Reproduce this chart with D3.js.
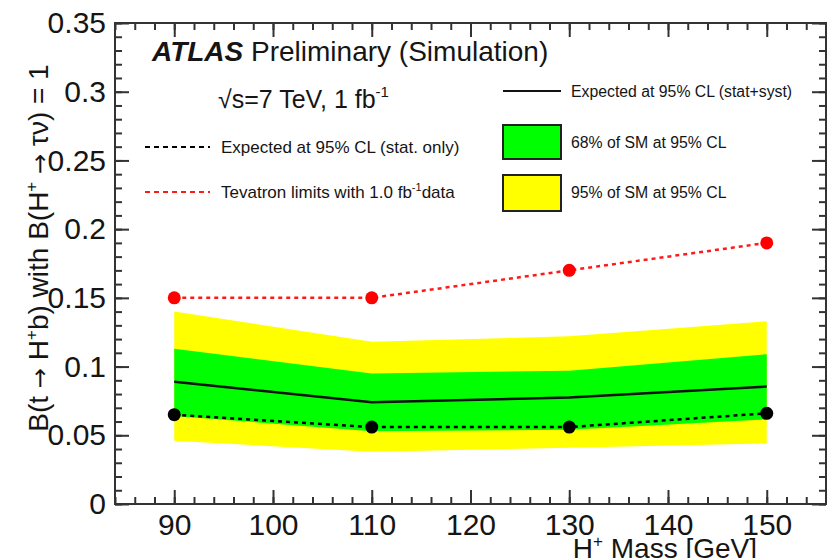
<!DOCTYPE html>
<html>
<head>
<meta charset="utf-8">
<script src="https://cdn.jsdelivr.net/npm/d3@7"></script>
<style>
  body { margin: 0; background: #fff; }
  text { font-family: "Liberation Sans", Arial, Helvetica, sans-serif; fill: #151515; }
</style>
</head>
<body>
<svg id="chart" width="827" height="558"></svg>
<script>
/*global d3*/

// H+ masses (GeV) where the limits were computed
var masses = [90, 110, 130, 150];

// limits on B(t -> H+b)
var tevatron = [0.15, 0.15, 0.17, 0.19];
var expStatOnly = [0.065, 0.056, 0.056, 0.066];
var expStatSyst = [0.089, 0.074, 0.0775, 0.0855];

// bands around the expected limit
var band68Up = [0.113, 0.095, 0.097, 0.109];
var band68Lo = [0.064, 0.053, 0.054, 0.0615];
var band95Up = [0.140, 0.118, 0.122, 0.133];
var band95Lo = [0.046, 0.038, 0.041, 0.044];

var xTicks = [90, 100, 110, 120, 130, 140, 150];
var xTickLabels = ["90", "100", "110", "120", "130", "140", "150"];
var yTicks = [0, 0.05, 0.1, 0.15, 0.2, 0.25, 0.3, 0.35];
var yTickLabels = ["0", "0.05", "0.1", "0.15", "0.2", "0.25", "0.3", "0.35"];

var legendLeft = ["Expected at 95% CL (stat. only)", "Tevatron limits with 1.0 fb"];
var legendRight = ["Expected at 95% CL (stat+syst)", "68% of SM at 95% CL", "95% of SM at 95% CL"];

var svg = d3.select("#chart");

var x = d3.scaleLinear().domain([84, 156]).range([115, 826]);
var y = d3.scaleLinear().domain([0, 0.35]).range([504, 23]);

var xMinor = d3.range(84, 157, 2);
var yMinor = d3.range(0, 0.3505, 0.01);

// bands first, so the frame and lines sit on top
function band(lo, up) {
  "use strict";
  return d3.area()
    .x(function(d, i) { return x(masses[i]); })
    .y0(function(d, i) { return y(lo[i]); })
    .y1(function(d, i) { return y(up[i]); })(masses);
}

svg.append("path").attr("d", band(band95Lo, band95Up)).attr("fill", "#ffff00");
svg.append("path").attr("d", band(band68Lo, band68Up)).attr("fill", "#00ff00");

function line(vals) {
  "use strict";
  return d3.line()
    .x(function(d, i) { return x(masses[i]); })
    .y(function(d, i) { return y(vals[i]); })(masses);
}

svg.append("path").attr("d", line(expStatSyst))
  .attr("fill", "none").attr("stroke", "#111").attr("stroke-width", 2.5);

svg.append("path").attr("d", line(expStatOnly))
  .attr("fill", "none").attr("stroke", "#000").attr("stroke-width", 2.5)
  .attr("stroke-dasharray", "4,4");

svg.append("path").attr("d", line(tevatron))
  .attr("fill", "none").attr("stroke", "#ff1a1a").attr("stroke-width", 2.5)
  .attr("stroke-dasharray", "4,4");

svg.selectAll("circle.stat").data(expStatOnly).enter().append("circle")
  .attr("class", "stat")
  .attr("cx", function(d, i) { return x(masses[i]); })
  .attr("cy", function(d) { return y(d); })
  .attr("r", 6.5).attr("fill", "#000");

svg.selectAll("circle.tev").data(tevatron).enter().append("circle")
  .attr("class", "tev")
  .attr("cx", function(d, i) { return x(masses[i]); })
  .attr("cy", function(d) { return y(d); })
  .attr("r", 6.5).attr("fill", "#ff0000");

// frame with inward ticks on all four sides
function ticks(axis, transform) {
  "use strict";
  var g = svg.append("g").attr("transform", transform).call(axis);
  g.select(".domain").remove();
  g.selectAll("line").attr("stroke", "#333").attr("stroke-width", 2);
  return g;
}

ticks(d3.axisBottom(x).tickValues(xMinor).tickSize(-7).tickFormat(""), "translate(0,504)");
ticks(d3.axisTop(x).tickValues(xMinor).tickSize(-7).tickFormat(""), "translate(0,23)");
ticks(d3.axisTop(x).tickValues(xTicks).tickSize(-14).tickFormat(""), "translate(0,23)");
ticks(d3.axisLeft(y).tickValues(yMinor).tickSize(-7).tickFormat(""), "translate(115,0)");
ticks(d3.axisRight(y).tickValues(yMinor).tickSize(-7).tickFormat(""), "translate(826,0)");
ticks(d3.axisRight(y).tickValues(yTicks).tickSize(-14).tickFormat(""), "translate(826,0)");

var xAxis = ticks(d3.axisBottom(x).tickValues(xTicks).tickSize(-14).tickPadding(10)
  .tickFormat(function(d, i) { return xTickLabels[i]; }), "translate(0,504)");
var yAxis = ticks(d3.axisLeft(y).tickValues(yTicks).tickSize(-14).tickPadding(9)
  .tickFormat(function(d, i) { return yTickLabels[i]; }), "translate(115,0)");

[xAxis, yAxis].forEach(function(g) {
  "use strict";
  g.attr("font-family", null).attr("font-size", null);
  g.selectAll("text").attr("fill", "#151515").style("font-size", "30px");
});

svg.append("rect")
  .attr("x", 115).attr("y", 23).attr("width", 711).attr("height", 481)
  .attr("fill", "none").attr("stroke", "#333").attr("stroke-width", 2);

// axis titles
var yTitle = svg.append("text")
  .attr("transform", "translate(48,248) rotate(-90)")
  .attr("text-anchor", "middle").style("font-size", "28px");
yTitle.append("tspan").text("B(t ");
yTitle.append("tspan").text("\u2192").style("font-family", "DejaVu Sans").style("font-size", "24px");
yTitle.append("tspan").text(" H");
yTitle.append("tspan").text("+").attr("dy", -11).style("font-size", "17px");
yTitle.append("tspan").text("b) with B(H").attr("dy", 11);
yTitle.append("tspan").text("+").attr("dy", -11).style("font-size", "17px");
yTitle.append("tspan").text("\u00a0\u2192").attr("dy", 11)
  .style("font-family", "DejaVu Sans").style("font-size", "24px");
yTitle.append("tspan").text(" \u03c4\u03bd) = 1");

var xTitle = svg.append("text")
  .attr("x", 757).attr("y", 558)
  .attr("text-anchor", "end").style("font-size", "28px");
xTitle.append("tspan").text("H");
xTitle.append("tspan").text("+").attr("dy", -11).style("font-size", "17px");
xTitle.append("tspan").text(" Mass [GeV]").attr("dy", 11);

// ATLAS label
var atlas = svg.append("text").attr("x", 152).attr("y", 61).style("font-size", "28px");
atlas.append("tspan").text("ATLAS").style("font-weight", "bold").style("font-style", "italic");
atlas.append("tspan").text(" Preliminary (Simulation)");

var energy = svg.append("text").attr("x", 218).attr("y", 108).style("font-size", "25px");
energy.append("tspan").text("\u221as=7 TeV, 1 fb");
energy.append("tspan").text("-1").attr("dy", -11).style("font-size", "15px");

// legend, left column
var lx0 = 145, lx1 = 210, ltx = 221;
svg.append("line").attr("x1", lx0).attr("x2", lx1).attr("y1", 147).attr("y2", 147)
  .attr("stroke", "#000").attr("stroke-width", 2).attr("stroke-dasharray", "5,4");
svg.append("line").attr("x1", lx0).attr("x2", lx1).attr("y1", 192).attr("y2", 192)
  .attr("stroke", "#ff1a1a").attr("stroke-width", 2).attr("stroke-dasharray", "5,4");

svg.append("text").attr("x", ltx).attr("y", 153).style("font-size", "17px").text(legendLeft[0]);
var tev = svg.append("text").attr("x", ltx).attr("y", 198).style("font-size", "17px");
tev.append("tspan").text(legendLeft[1]);
tev.append("tspan").text("-1").attr("dy", -7).style("font-size", "11px");
tev.append("tspan").text("data").attr("dy", 7);

// legend, right column
var rx0 = 503, rx1 = 561, rtx = 571;
svg.append("line").attr("x1", rx0).attr("x2", rx1).attr("y1", 91).attr("y2", 91)
  .attr("stroke", "#111").attr("stroke-width", 2);
svg.append("rect").attr("x", rx0).attr("y", 125).attr("width", rx1 - rx0).attr("height", 34)
  .attr("fill", "#00ff00").attr("stroke", "#222").attr("stroke-width", 2);
svg.append("rect").attr("x", rx0).attr("y", 175).attr("width", rx1 - rx0).attr("height", 36)
  .attr("fill", "#ffff00").attr("stroke", "#222").attr("stroke-width", 2);

svg.selectAll("text.legr").data(legendRight).enter().append("text")
  .attr("class", "legr")
  .attr("x", rtx)
  .attr("y", function(d, i) { return [97, 148, 198][i]; })
  .style("font-size", "15.8px")
  .text(function(d) { return d; });
</script>
</body>
</html>
